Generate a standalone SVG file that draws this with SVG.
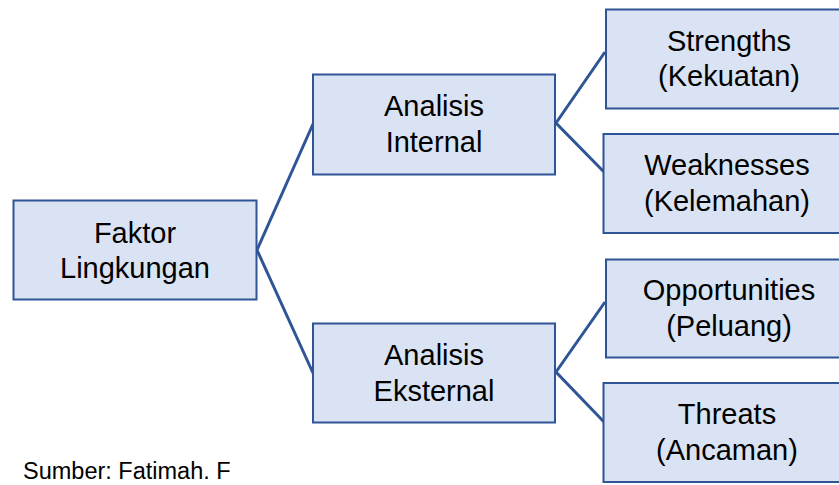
<svg xmlns="http://www.w3.org/2000/svg" width="839" height="485" viewBox="0 0 839 485">
<style>
.box{fill:#DAE3F3;stroke:#2F5597;stroke-width:2}
.lbl{font-family:"Liberation Sans",Arial,sans-serif;font-size:29px;fill:#000;text-anchor:middle}
.src{font-family:"Liberation Sans",Arial,sans-serif;font-size:23.5px;fill:#000}
.con{fill:none;stroke:#2F5597;stroke-width:3;stroke-linejoin:miter}
</style>
<rect width="839" height="485" fill="#fff"/>
<g id="connectors">
<polyline class="con" points="313,124 257,250 313,373"/>
<polyline class="con" points="605,52 556,123 605,173"/>
<polyline class="con" points="605,302 556,372 605,423"/>
</g>
<g id="faktor">
<rect class="box" x="13.5" y="200.5" width="243" height="99"/>
<text class="lbl" x="135" y="243">Faktor</text>
<text class="lbl" x="135" y="278">Lingkungan</text>
</g>
<g id="internal">
<rect class="box" x="313" y="74.5" width="242" height="100"/>
<text class="lbl" x="434" y="116">Analisis</text>
<text class="lbl" x="434" y="152">Internal</text>
</g>
<g id="eksternal">
<rect class="box" x="313" y="323.5" width="242" height="99"/>
<text class="lbl" x="434" y="365">Analisis</text>
<text class="lbl" x="434" y="401">Eksternal</text>
</g>
<g id="strengths">
<rect class="box" x="606" y="9.5" width="243" height="99"/>
<text class="lbl" x="729" y="51">Strengths</text>
<text class="lbl" x="729" y="86">(Kekuatan)</text>
</g>
<g id="weaknesses">
<rect class="box" x="603.5" y="134" width="246" height="99"/>
<text class="lbl" x="727" y="175">Weaknesses</text>
<text class="lbl" x="727" y="211">(Kelemahan)</text>
</g>
<g id="opportunities">
<rect class="box" x="606" y="259.5" width="243" height="98"/>
<text class="lbl" x="729" y="300">Opportunities</text>
<text class="lbl" x="729" y="336">(Peluang)</text>
</g>
<g id="threats">
<rect class="box" x="603.5" y="383" width="246" height="99"/>
<text class="lbl" x="727" y="424">Threats</text>
<text class="lbl" x="727" y="460">(Ancaman)</text>
</g>
<g id="source">
<text class="src" x="23" y="479">Sumber: Fatimah. F</text>
</g>
</svg>
